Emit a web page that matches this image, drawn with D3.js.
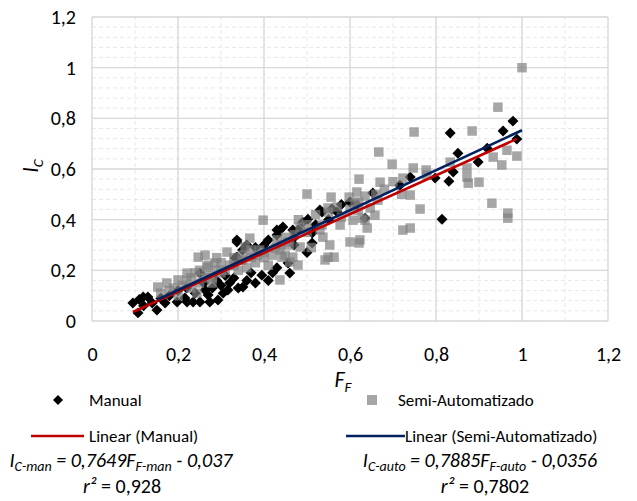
<!DOCTYPE html>
<html>
<head>
<meta charset="utf-8">
<script src="https://cdn.jsdelivr.net/npm/d3@7"></script>
<style>
    body { margin: 0; background: #fff; }
    svg text { font-family: Carlito, Calibri, Lato, sans-serif; fill: #000; }
</style>
</head>
<body>
<svg id="chart" width="637" height="501"></svg>
<script>
// Manual series (F_F, I_C) - black diamonds
const manualPoints = [
    [0.095, 0.071], [0.107, 0.032], [0.119, 0.095], [0.13, 0.095], [0.14, 0.071],
    [0.151, 0.043], [0.17, 0.071], [0.198, 0.075], [0.216, 0.091], [0.221, 0.075],
    [0.235, 0.075], [0.251, 0.075], [0.263, 0.122], [0.274, 0.075], [0.27, 0.103],
    [0.293, 0.083], [0.305, 0.11], [0.316, 0.122], [0.12, 0.06], [0.11, 0.085],
    [0.16, 0.09], [0.18, 0.1], [0.2, 0.12], [0.22, 0.13], [0.24, 0.11],
    [0.251, 0.189], [0.26, 0.15], [0.28, 0.13], [0.29, 0.16], [0.3, 0.14],
    [0.31, 0.18], [0.32, 0.15], [0.33, 0.17], [0.34, 0.13], [0.351, 0.134],
    [0.36, 0.16], [0.37, 0.19], [0.38, 0.15], [0.395, 0.181], [0.41, 0.16],
    [0.42, 0.19], [0.43, 0.21], [0.46, 0.189], [0.456, 0.229], [0.337, 0.312],
    [0.333, 0.249], [0.337, 0.32], [0.337, 0.252], [0.35, 0.28], [0.36, 0.3],
    [0.38, 0.29], [0.4, 0.3], [0.41, 0.32], [0.43, 0.359], [0.437, 0.359],
    [0.444, 0.371], [0.467, 0.359], [0.43, 0.339], [0.47, 0.33], [0.48, 0.36],
    [0.49, 0.39], [0.502, 0.402], [0.512, 0.347], [0.512, 0.308], [0.53, 0.438],
    [0.535, 0.43], [0.558, 0.442], [0.57, 0.43], [0.58, 0.46], [0.6, 0.47],
    [0.616, 0.458], [0.635, 0.406], [0.653, 0.505], [0.716, 0.536], [0.74, 0.568],
    [0.798, 0.564], [0.814, 0.402], [0.83, 0.552], [0.84, 0.588], [0.851, 0.662],
    [0.833, 0.742], [0.898, 0.628], [0.919, 0.682], [0.956, 0.75], [0.979, 0.789],
    [0.988, 0.718], [0.5, 0.27], [0.52, 0.38], [0.55, 0.4], [0.47, 0.3]
];

// Semi-Automatizado series (F_F, I_C) - gray squares
const semiPoints = [
    [0.153, 0.134], [0.174, 0.15], [0.2, 0.162], [0.221, 0.189], [0.247, 0.252],
    [0.267, 0.213], [0.279, 0.15], [0.244, 0.11], [0.263, 0.26], [0.286, 0.229],
    [0.314, 0.272], [0.356, 0.292], [0.367, 0.327], [0.384, 0.26], [0.426, 0.288],
    [0.449, 0.26], [0.46, 0.3], [0.437, 0.162], [0.398, 0.398], [0.18, 0.12],
    [0.21, 0.14], [0.23, 0.17], [0.25, 0.2], [0.27, 0.18], [0.29, 0.2],
    [0.3, 0.23], [0.32, 0.22], [0.33, 0.25], [0.35, 0.24], [0.36, 0.21],
    [0.38, 0.23], [0.39, 0.28], [0.4, 0.25], [0.41, 0.22], [0.42, 0.26],
    [0.44, 0.3], [0.45, 0.33], [0.46, 0.233], [0.16, 0.11], [0.19, 0.13],
    [0.22, 0.16], [0.26, 0.17], [0.3, 0.19], [0.34, 0.2], [0.37, 0.25],
    [0.437, 0.28], [0.456, 0.312], [0.467, 0.252], [0.479, 0.221], [0.442, 0.252],
    [0.484, 0.371], [0.484, 0.292], [0.5, 0.501], [0.535, 0.379], [0.537, 0.331],
    [0.542, 0.241], [0.549, 0.446], [0.549, 0.252], [0.553, 0.3], [0.556, 0.489],
    [0.563, 0.252], [0.577, 0.379], [0.598, 0.489], [0.6, 0.312], [0.607, 0.398],
    [0.612, 0.465], [0.616, 0.509], [0.619, 0.438], [0.621, 0.56], [0.621, 0.308],
    [0.623, 0.32], [0.628, 0.406], [0.635, 0.493], [0.635, 0.398], [0.64, 0.367],
    [0.647, 0.446], [0.658, 0.418], [0.665, 0.477], [0.667, 0.667], [0.67, 0.548],
    [0.698, 0.619], [0.723, 0.564], [0.723, 0.359], [0.74, 0.497], [0.74, 0.367],
    [0.747, 0.604], [0.749, 0.746], [0.763, 0.442], [0.777, 0.596], [0.779, 0.576],
    [0.833, 0.627], [0.872, 0.604], [0.872, 0.568], [0.875, 0.544], [0.884, 0.75],
    [0.9, 0.548], [0.93, 0.465], [0.933, 0.647], [0.944, 0.844], [0.953, 0.616],
    [0.965, 0.674], [0.967, 0.426], [0.967, 0.406], [0.988, 0.651], [1.0, 1.0],
    [0.5, 0.35], [0.52, 0.42], [0.48, 0.4], [0.58, 0.41], [0.6, 0.44],
    [0.68, 0.52], [0.7, 0.55], [0.72, 0.5], [0.51, 0.29],
    [0.2, 0.1], [0.23, 0.13], [0.25, 0.15], [0.28, 0.17], [0.31, 0.2],
    [0.33, 0.22], [0.35, 0.26], [0.37, 0.28], [0.4, 0.27], [0.43, 0.32],
    [0.47, 0.34], [0.5, 0.38], [0.53, 0.36], [0.55, 0.43], [0.57, 0.45],
    [0.62, 0.47], [0.66, 0.5], [0.29, 0.25], [0.27, 0.22], [0.24, 0.19]
];

// Linear trend coefficients [slope, intercept]
const manualFit = [0.7649, -0.037];
const semiFit = [0.7885, -0.0356];

const xTicks = [0, 0.2, 0.4, 0.6, 0.8, 1, 1.2];
const yTicks = [0, 0.2, 0.4, 0.6, 0.8, 1, 1.2];
const xMinorTicks = d3.range(0, 1.2001, 0.1);
const yMinorTicks = d3.range(0, 1.2001, 0.04);

const svg = d3.select("#chart");
const fmt = d3.formatLocale({ decimal: ",", thousands: ".", grouping: [3], currency: ["", ""] }).format("~g");

const x = d3.scaleLinear().domain([0, 1.2]).range([92, 608]);
const y = d3.scaleLinear().domain([0, 1.2]).range([321, 17]);

// Gridlines, minor first (dashed) then major
const grid = svg.append("g");
grid.selectAll(".minorX")
    .data(xMinorTicks)
    .enter().append("line")
    .attr("x1", d => x(d)).attr("x2", d => x(d))
    .attr("y1", y(0)).attr("y2", y(1.2))
    .attr("stroke", "#e8e8e8").attr("stroke-width", 1).attr("stroke-dasharray", "4,3");
grid.selectAll(".minorY")
    .data(yMinorTicks)
    .enter().append("line")
    .attr("x1", x(0)).attr("x2", x(1.2))
    .attr("y1", d => y(d)).attr("y2", d => y(d))
    .attr("stroke", "#e8e8e8").attr("stroke-width", 1).attr("stroke-dasharray", "4,3");
grid.selectAll(".majorX")
    .data(xTicks)
    .enter().append("line")
    .attr("x1", d => x(d)).attr("x2", d => x(d))
    .attr("y1", y(0)).attr("y2", y(1.2))
    .attr("stroke", "#d9d9d9").attr("stroke-width", 1.3);
grid.selectAll(".majorY")
    .data(yTicks)
    .enter().append("line")
    .attr("x1", x(0)).attr("x2", x(1.2))
    .attr("y1", d => y(d)).attr("y2", d => y(d))
    .attr("stroke", "#d9d9d9").attr("stroke-width", 1.3);

// Axes (labels only)
const xAxis = svg.append("g")
    .attr("transform", `translate(0,${y(0)})`)
    .call(d3.axisBottom(x).tickValues(xTicks).tickFormat(fmt).tickSize(0).tickPadding(26));
xAxis.select(".domain").remove();
xAxis.selectAll("text").attr("font-size", 20).attr("font-family", null);

const yAxis = svg.append("g")
    .attr("transform", `translate(${x(0)},0)`)
    .call(d3.axisLeft(y).tickValues(yTicks).tickFormat(fmt).tickSize(0).tickPadding(16));
yAxis.select(".domain").remove();
yAxis.selectAll("text").attr("font-size", 20).attr("font-family", null);

// Diamond marker (square rotated 45 degrees)
const diamond = {
    draw(ctx, size) {
        const r = Math.sqrt(size / 2);
        ctx.moveTo(0, -r); ctx.lineTo(r, 0); ctx.lineTo(0, r); ctx.lineTo(-r, 0); ctx.closePath();
    }
};

svg.append("g").selectAll("path")
    .data(manualPoints)
    .enter().append("path")
    .attr("transform", d => `translate(${x(d[0])},${y(d[1])})`)
    .attr("d", d3.symbol().type(diamond).size(60))
    .attr("fill", "#000");

svg.append("g").selectAll("path")
    .data(semiPoints)
    .enter().append("path")
    .attr("transform", d => `translate(${x(d[0])},${y(d[1])})`)
    .attr("d", d3.symbol().type(d3.symbolSquare).size(90))
    .attr("fill", "#808080")
    .attr("fill-opacity", 0.7);

// Trend lines over the data range of each series
function trend(points, fit, color) {
    const ext = d3.extent(points, d => d[0]);
    svg.append("path")
        .datum(ext.map(v => [v, fit[0] * v + fit[1]]))
        .attr("d", d3.line().x(d => x(d[0])).y(d => y(d[1])))
        .attr("stroke", color).attr("stroke-width", 2.6).attr("fill", "none");
}
trend(manualPoints, manualFit, "#c00000");
trend(semiPoints, semiFit, "#002060");

// Axis titles
const yTitle = svg.append("text")
    .attr("transform", "translate(38,166) rotate(-90)")
    .attr("text-anchor", "middle")
    .attr("font-size", 22).attr("font-style", "italic");
yTitle.append("tspan").text("I");
yTitle.append("tspan").attr("font-size", 15).attr("dy", 5).text("C");

const xTitle = svg.append("text")
    .attr("x", 343).attr("y", 387)
    .attr("text-anchor", "middle")
    .attr("font-size", 22).attr("font-style", "italic");
xTitle.append("tspan").text("F");
xTitle.append("tspan").attr("font-size", 15).attr("dy", 5).text("F");

// Legend
const legend = svg.append("g").attr("font-size", 17);
legend.append("path")
    .attr("transform", "translate(58,400)")
    .attr("d", d3.symbol().type(diamond).size(50))
    .attr("fill", "#000");
legend.append("text").attr("x", 89).attr("y", 406).text("Manual");
legend.append("path")
    .attr("transform", "translate(372,400)")
    .attr("d", d3.symbol().type(d3.symbolSquare).size(100))
    .attr("fill", "#a6a6a6");
legend.append("text").attr("x", 398).attr("y", 406).text("Semi-Automatizado");

legend.append("line").attr("x1", 31).attr("x2", 84).attr("y1", 436).attr("y2", 436)
    .attr("stroke", "#c00000").attr("stroke-width", 2.6);
legend.append("text").attr("x", 89).attr("y", 442).text("Linear (Manual)");
legend.append("line").attr("x1", 346).attr("x2", 405).attr("y1", 436).attr("y2", 436)
    .attr("stroke", "#002060").attr("stroke-width", 2.6);
legend.append("text").attr("x", 405).attr("y", 442).text("Linear (Semi-Automatizado)");

// Equations and r²
function equation(cx, cy, sub1, coef, sub2, icpt) {
    const t = svg.append("text")
        .attr("x", cx).attr("y", cy)
        .attr("text-anchor", "middle")
        .attr("font-size", 20).attr("font-style", "italic");
    t.append("tspan").text("I");
    t.append("tspan").attr("font-size", 14).attr("dy", 4).text(sub1);
    t.append("tspan").attr("dy", -4).text(` = ${coef}F`);
    t.append("tspan").attr("font-size", 14).attr("dy", 4).text(sub2);
    t.append("tspan").attr("dy", -4).text(` - ${icpt}`);
}
function rsq(cx, cy, val) {
    const t = svg.append("text")
        .attr("x", cx).attr("y", cy)
        .attr("text-anchor", "middle")
        .attr("font-size", 20);
    t.append("tspan").attr("font-style", "italic").text("r²");
    t.append("tspan").text(` = ${val}`);
}
equation(121, 467, "C-man", fmt(manualFit[0]), "F-man", fmt(-manualFit[1]));
rsq(122, 493, "0,928");
equation(480, 467, "C-auto", fmt(semiFit[0]), "F-auto", fmt(-semiFit[1]));
rsq(485, 493, "0,7802");
</script>
</body>
</html>
